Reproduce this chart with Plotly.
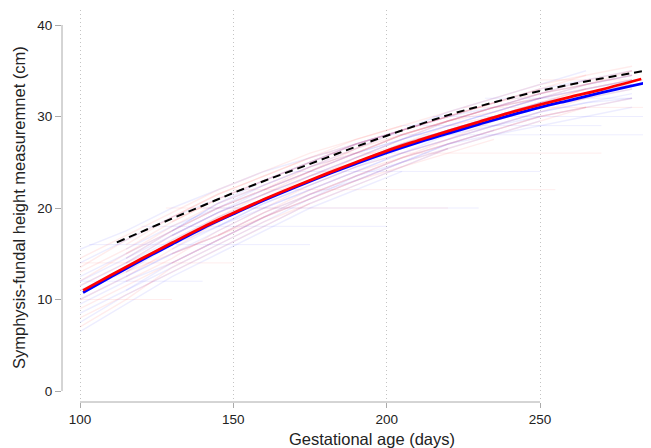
import plotly.graph_objects as go

# ---- data ----
curve_days = [101, 110, 120, 130, 140, 150, 160, 170, 180, 190, 200, 210, 220, 230, 240, 250, 260, 270, 283]
red_mean = [11.0, 12.65, 14.45, 16.2, 17.9, 19.45, 20.95, 22.35, 23.7, 25.0, 26.25, 27.35, 28.4, 29.4, 30.4, 31.3, 32.15, 32.95, 34.1]
blue_days = [101, 110, 120, 130, 140, 150, 160, 170, 180, 190, 200, 210, 220, 230, 240, 250, 260, 270, 284]
blue_mean = [10.75, 12.45, 14.3, 16.05, 17.8, 19.35, 20.85, 22.25, 23.6, 24.85, 26.05, 27.15, 28.15, 29.15, 30.1, 31.0, 31.8, 32.6, 33.66]
ref_days = [112, 120, 130, 140, 150, 160, 170, 180, 190, 200, 210, 220, 230, 240, 250, 260, 270, 280, 290]
ref_curve = [16.25, 17.4, 18.85, 20.25, 21.65, 22.95, 24.2, 25.45, 26.7, 27.9, 29.05, 30.15, 31.1, 32.0, 32.8, 33.5, 34.15, 34.75, 35.35]

traj_days = [100, 115, 130, 145, 160, 175, 190, 205, 220, 235, 250, 265, 280]
N = None
red_paths = [
    [9.0, 11.5, 14.0, 16.5, 19.0, 21.0, 23.0, 25.0, 26.5, N, N, N, N],
    [N, 14.5, 17.5, 20.0, 22.0, 24.0, 26.0, 28.0, 29.5, 31.0, 32.0, N, N],
    [N, N, 15.0, 17.0, 19.5, 21.5, 23.5, 25.5, 27.0, 28.5, 30.0, 31.0, N],
    [8.0, 10.5, 13.0, 15.5, 18.0, 20.5, 22.5, 24.5, 26.0, 27.5, N, N, N],
    [N, 16.0, 19.0, 21.5, 23.5, 25.5, 27.5, 29.0, 30.5, 32.0, 33.5, 34.5, N],
    [11.0, 13.0, 16.5, 19.0, 21.0, 23.5, 25.0, 27.0, 29.0, 30.0, 31.5, 33.0, 34.0],
    [N, N, N, 17.0, 19.0, 21.0, 23.0, 24.5, 26.5, 28.0, 29.5, 31.0, 32.0],
    [7.0, 10.0, 13.5, 16.0, 18.5, 20.5, N, N, N, N, N, N, N],
    [N, 14.0, 16.0, 19.0, 21.5, 24.0, 26.5, 28.5, 30.0, 31.5, 33.0, N, N],
    [13.0, 15.5, 18.5, 21.0, 23.0, 25.0, 27.0, 28.5, 30.0, N, N, N, N],
    [N, N, 14.0, 16.5, 19.0, 21.5, 23.5, 25.5, 27.5, 29.5, 31.0, 32.5, 33.5],
    [N, 12.0, 14.5, 17.5, 20.0, 22.5, 24.5, 26.0, 27.5, 29.0, 30.5, 32.0, N],
    [10.0, 12.5, 15.5, 18.5, 21.0, 23.0, 25.5, 27.5, 29.5, 31.0, 32.5, 34.0, 35.0],
    [N, N, N, N, 22.0, 24.5, 26.0, 28.0, 29.5, 31.0, 32.0, 33.5, 34.5],
    [N, 13.0, 15.0, 17.0, 19.5, 22.0, 24.0, 25.5, 27.0, 28.5, 30.0, 31.0, N],
    [13.5, 16.5, 19.0, 21.5, 23.5, 25.5, 27.0, 28.5, 30.0, 31.5, 32.5, 33.5, 34.5],
    [N, 15.0, 18.0, 20.5, 22.5, 24.5, 26.5, 28.0, 29.5, 31.0, 32.5, 33.5, 35.0],
    [12.0, 15.0, 17.5, 20.0, 22.0, 24.0, 26.0, 28.0, 29.5, 30.5, 32.0, 33.0, N],
    [N, N, 18.5, 21.0, 23.0, 25.0, 27.0, 28.5, 30.0, 31.5, 33.0, 34.5, 35.5],
    [14.5, 17.0, 19.5, 22.0, 24.0, 26.0, 27.5, 29.0, N, N, N, N, N],
    [N, 13.5, 16.0, 18.5, 21.0, 23.0, 25.0, 27.0, 28.5, 30.0, 31.5, 33.0, 34.0],
    [11.5, 14.0, 17.0, 19.5, 21.5, 23.5, 25.5, 27.0, 28.5, 30.0, 31.0, 32.0, 33.0],
]
blue_paths = [
    [8.5, 11.0, 13.5, 16.0, 18.5, 21.0, 23.0, 25.0, 27.0, 28.5, N, N, N],
    [N, 13.5, 16.0, 18.5, 21.0, 23.0, 25.0, 27.0, 28.5, 30.0, 31.5, 32.5, N],
    [12.0, 14.5, 17.0, 19.5, 22.0, 24.0, 26.0, 27.5, 29.0, 30.5, 32.0, 33.0, 34.0],
    [N, 11.0, 14.0, 16.5, 19.0, 21.0, 23.5, 25.0, 27.0, 28.0, 29.5, N, N],
    [10.0, 12.5, 15.0, 17.5, 20.0, 22.0, 24.0, 26.0, 27.5, 29.0, 30.5, 31.5, 32.5],
    [N, N, 17.5, 20.5, 22.5, 24.5, 26.5, 28.5, 30.0, 31.5, 33.0, 34.0, N],
    [6.5, 9.5, 12.5, 15.0, 17.5, 20.0, 22.0, 24.0, N, N, N, N, N],
    [N, 15.5, 18.0, 20.0, 22.5, 24.5, 26.0, 28.0, 29.5, 31.0, 32.0, N, N],
    [11.5, 14.0, 16.5, 19.0, 21.0, 23.0, 25.0, 26.5, 28.0, 29.5, 31.0, 32.0, 33.0],
    [N, N, 15.5, 18.0, 20.5, 22.5, 24.5, 26.5, 28.5, 30.0, 31.0, 32.5, 33.5],
    [9.5, 12.0, 14.0, 16.5, 19.0, 21.5, 23.5, 25.5, 27.0, 28.5, 30.0, N, N],
    [N, 14.0, 17.0, 19.5, 21.5, 23.5, 25.5, 27.5, 29.0, 30.5, 32.0, 33.0, 34.0],
    [N, N, N, 18.0, 20.0, 22.0, 24.0, 26.0, 28.0, 29.0, 30.5, 31.5, 32.0],
    [12.5, 15.0, 17.5, 20.5, 23.0, 25.0, 27.0, 28.5, 30.5, 32.0, 33.5, 35.0, N],
    [N, 12.5, 15.0, 17.0, 19.5, 21.5, 23.0, 25.0, 26.5, 28.0, 29.0, 30.0, 31.0],
    [7.5, 10.5, 13.0, 15.5, 18.0, 20.5, 22.5, 24.5, 26.5, N, N, N, N],
    [14.0, 16.5, 19.0, 21.0, 23.0, 25.0, 27.0, 28.5, 30.0, 31.0, 32.5, 33.5, 34.5],
    [N, 14.5, 17.5, 20.0, 22.0, 24.0, 26.0, 27.5, 29.0, 30.5, 32.0, 33.5, 34.5],
    [11.0, 13.5, 16.0, 18.5, 21.0, 23.0, 25.0, 27.0, 28.5, 30.0, 31.5, 32.5, 33.5],
    [N, N, 17.0, 19.5, 21.5, 23.5, 25.5, 27.5, 29.5, 31.0, 32.5, 34.0, 35.0],
    [15.5, 17.5, 20.0, 22.0, 24.0, 25.5, 27.0, 28.5, N, N, N, N, N],
    [N, 13.0, 16.0, 18.0, 20.5, 22.5, 24.5, 26.0, 27.5, 29.0, 30.0, 31.0, 32.0],
]
flat_vals = [10, 12, 14, 16, 18, 20, 20, 22, 24, 26, 28, 29, 30, 31, 32, 34]
flat_start = [100, 100, 100, 103, 120, 128, 140, 150, 168, 180, 200, 205, 215, 225, 232, 250]
flat_end = [130, 140, 150, 175, 200, 220, 230, 255, 250, 270, 285, 270, 285, 285, 280, 285]
flat_group = ["r", "b", "r", "b", "b", "r", "b", "r", "b", "r", "b", "b", "b", "r", "b", "r"]

x_ticks = [100, 150, 200, 250]
y_ticks = [0, 10, 20, 30, 40]

RED_FAINT = "rgba(255,0,0,0.075)"
BLUE_FAINT = "rgba(0,0,255,0.07)"

fig = go.Figure()

for p in blue_paths:
    fig.add_trace(go.Scatter(x=traj_days, y=p, mode="lines", line=dict(color=BLUE_FAINT, width=1.5),
                             hoverinfo="skip", showlegend=False, connectgaps=False))
for p in red_paths:
    fig.add_trace(go.Scatter(x=traj_days, y=p, mode="lines", line=dict(color=RED_FAINT, width=1.5),
                             hoverinfo="skip", showlegend=False, connectgaps=False))
for v, s, e, g in zip(flat_vals, flat_start, flat_end, flat_group):
    fig.add_trace(go.Scatter(x=[s, e], y=[v, v], mode="lines",
                             line=dict(color=RED_FAINT if g == "r" else BLUE_FAINT, width=1),
                             hoverinfo="skip", showlegend=False))

fig.add_trace(go.Scatter(x=ref_days, y=ref_curve, mode="lines", line=dict(color="black", width=2, dash="8px,5px", shape="spline"),
                         showlegend=False))
fig.add_trace(go.Scatter(x=blue_days, y=blue_mean, mode="lines", line=dict(color="#0000ff", width=2.8, shape="spline"),
                         showlegend=False))
fig.add_trace(go.Scatter(x=curve_days, y=red_mean, mode="lines", line=dict(color="#ff0000", width=2.8, shape="spline"),
                         showlegend=False))

AX = "#aaaaaa"
fig.add_shape(type="line", xref="x", yref="paper", x0=x_ticks[0], x1=x_ticks[-1], y0=0, y1=0,
              line=dict(color=AX, width=1))
fig.add_shape(type="line", xref="paper", yref="y", x0=0, x1=0, y0=y_ticks[0], y1=y_ticks[-1],
              line=dict(color=AX, width=1))

FONT = "Liberation Sans, Arial, sans-serif"
# the page body adds an 8px margin, so the figure is drawn 8px in from the top-left corner
fig.update_layout(
    width=643, height=440,
    margin=dict(l=54, r=0, t=2, b=46, autoexpand=False),
    paper_bgcolor="white", plot_bgcolor="white",
    font=dict(family=FONT, size=13.5, color="#222222"),
    xaxis=dict(range=[94.13, 286.17], tickvals=x_ticks, ticks="outside", ticklen=5, tickcolor=AX,
               showline=False, zeroline=False, showgrid=True, gridcolor="#c4c4c4", griddash="1px,3px", gridwidth=1,
               automargin=False, tickfont=dict(size=13.5, color="#222222")),
    yaxis=dict(range=[-1.2, 41.64], tickvals=y_ticks, ticks="outside", ticklen=6, tickcolor=AX,
               showline=False, zeroline=False, showgrid=False, automargin=False,
               tickfont=dict(size=13.5, color="#222222")),
    annotations=[
        dict(text="Gestational age (days)", xref="paper", yref="paper", x=(363.7 - 54) / 589, y=(394 - 431) / 392,
             xanchor="center", yanchor="middle", showarrow=False, font=dict(size=16.5, color="#222222")),
        dict(text="Symphysis-fundal height measuremnet (cm)", xref="paper", yref="paper", x=(11 - 54) / 589,
             y=(394 - 200) / 392, xanchor="center", yanchor="middle", textangle=-90, showarrow=False,
             font=dict(size=16.5, color="#222222")),
    ],
)

fig.write_html("out.html")
